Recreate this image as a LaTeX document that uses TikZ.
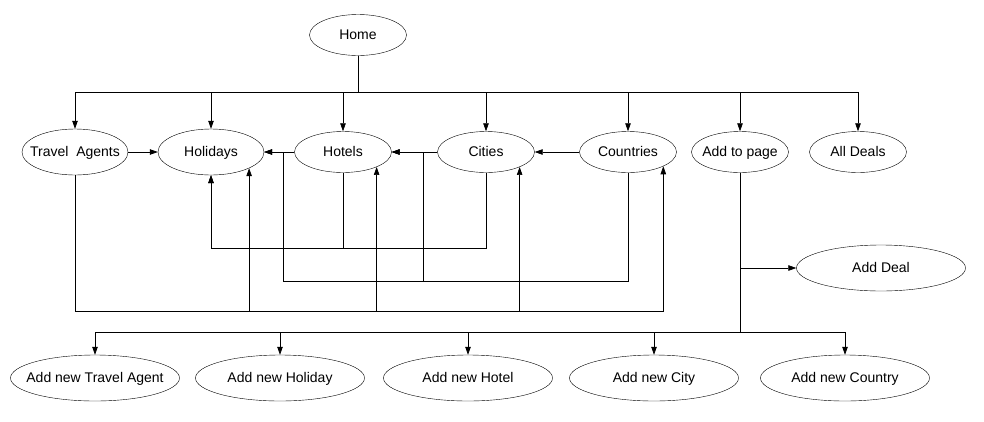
\documentclass[tikz,border=0pt]{standalone}
\usepackage{fontspec}
\setmainfont{Liberation Sans}
\usepackage{tikz}
\usetikzlibrary{shapes.geometric, arrows.meta}

\begin{document}
\begin{tikzpicture}[x=1pt,y=1pt,
		page/.style={draw, ellipse, inner sep=0pt, minimum width=97pt, minimum height=41pt,
			text height=9pt, text depth=0pt, font=\fontsize{14}{16}\selectfont,
			execute at begin node={\hbox to 0pt\bgroup\hss}, execute at end node={\hss\egroup}},
		bigpage/.style={page, minimum width=106pt, minimum height=46pt},
		newpage/.style={page, minimum width=169pt, minimum height=46pt},
		link/.style={draw, line width=0.7pt, -{Triangle[length=8pt,width=5.5pt]}}]
		\useasboundingbox (0,0) rectangle (984,-421);
		% pages
		\node[page] (home) at (358,-35) {Home};
		\node[bigpage] (ta) at (75,-152) {Travel~ Agents};
		\node[bigpage] (hol) at (211,-152) {Holidays};
		\node[page] (hot) at (343,-152) {Hotels};
		\node[page] (cit) at (486,-152) {Cities};
		\node[page] (cou) at (628,-152) {Countries};
		\node[page] (atp) at (740,-152) {Add to page};
		\node[page] (all) at (858,-152) {All Deals};
		\node[newpage] (adl) at (881,-268) {Add Deal};
		\node[newpage] (nta) at (95,-378) {Add new Travel Agent};
		\node[newpage] (nho) at (280,-378) {Add new Holiday};
		\node[newpage] (nht) at (468,-378) {Add new Hotel};
		\node[newpage] (nci) at (654,-378) {Add new City};
		\node[newpage] (nco) at (845,-378) {Add new Country};
		% links from home
		\foreach \n in {ta,hol,hot,cit,cou,atp,all}
			\draw[link] (home.south) -- ++(0,-37) -| (\n.north);
		% links along the row
		\draw[link] (ta) -- (hol);
		\draw[link] (hot) -- (hol);
		\draw[link] (cit) -- (hot);
		\draw[link] (cou) -- (cit);
		% links below the row
		\draw[link] (hot.south) -- ++(0,-76) -| (hol.south);
		\draw[link] (cit.south) -- ++(0,-76) -| (hol.south);
		\draw[link] (cou.south) -- ++(0,-109) -| ([xshift=19pt]hol.east) -- (hol.east);
		\draw[link] (cou.south) -- ++(0,-109) -| ([xshift=-14pt]cit.west) -- (hot.east);
		\foreach \n/\a in {hol/-23,hot/-24,cit/-24,cou/-22}
			\draw[link] (ta.south) -- ++(0,-136) -| (\n.\a);
		% add to page
		\draw[link] (atp.south) |- (adl.west);
		\foreach \n in {nta,nho,nht,nci,nco}
			\draw[link] (atp.south) -- ++(0,-160) -| (\n.north);
\end{tikzpicture}
\end{document}
